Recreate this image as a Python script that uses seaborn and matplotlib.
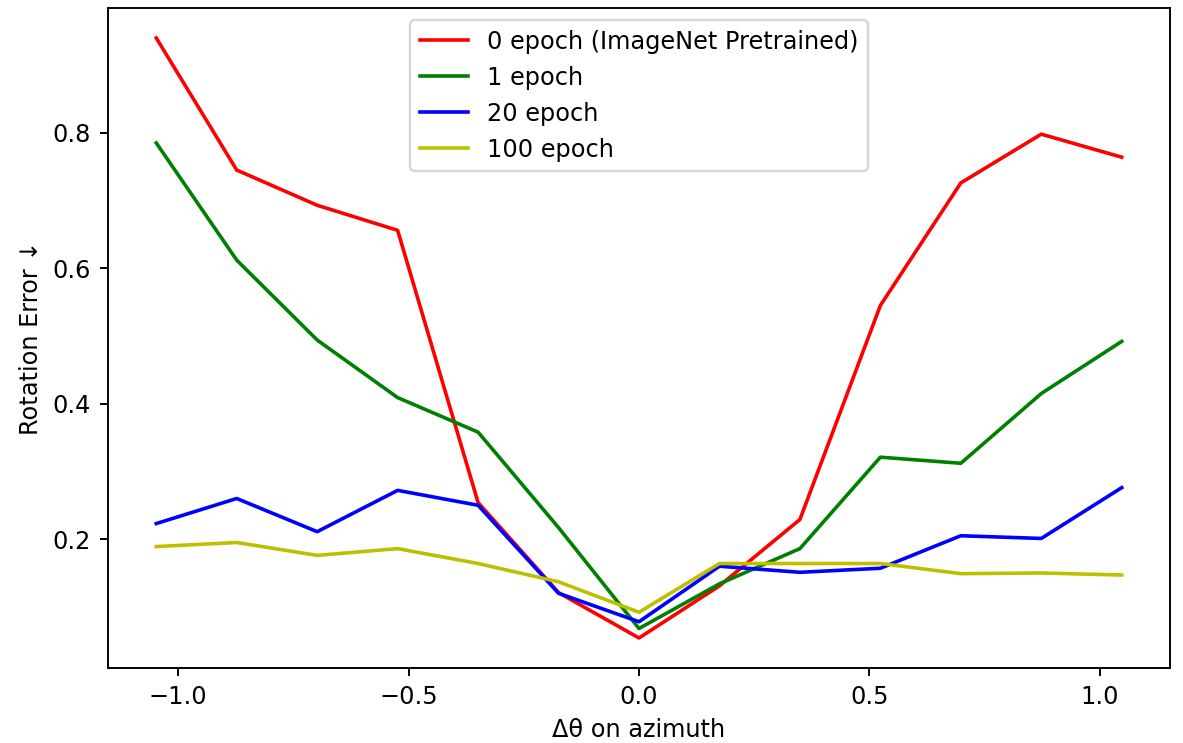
import numpy as np
import pandas as pd
import matplotlib
matplotlib.use("Agg")
import matplotlib.pyplot as plt
import seaborn as sns

# Azimuth offsets (radians): -60..60 degrees in 10 degree steps
azimuth_deg = [-60, -50, -40, -30, -20, -10, 0, 10, 20, 30, 40, 50, 60]
delta_theta = list(np.deg2rad(azimuth_deg))

series_names = ["0 epoch (ImageNet Pretrained)", "1 epoch", "20 epoch", "100 epoch"]
err_epoch0 = [0.940, 0.745, 0.693, 0.656, 0.254, 0.121, 0.054, 0.131, 0.229, 0.545, 0.726, 0.798, 0.764]
err_epoch1 = [0.785, 0.612, 0.494, 0.409, 0.358, 0.217, 0.068, 0.134, 0.186, 0.321, 0.312, 0.415, 0.492]
err_epoch20 = [0.223, 0.260, 0.211, 0.272, 0.250, 0.120, 0.078, 0.160, 0.151, 0.157, 0.205, 0.201, 0.276]
err_epoch100 = [0.189, 0.195, 0.176, 0.186, 0.164, 0.137, 0.092, 0.164, 0.164, 0.164, 0.149, 0.150, 0.147]
colors = ["r", "g", "b", "y"]

all_vals = [err_epoch0, err_epoch1, err_epoch20, err_epoch100]
df = pd.concat(
    [pd.DataFrame({"x": delta_theta, "y": v, "model": n}) for n, v in zip(series_names, all_vals)],
    ignore_index=True,
)

DPI = 173
plt.rcParams["font.family"] = ["DejaVu Sans"]
fig = plt.figure(figsize=(1183 / DPI, 743 / DPI), dpi=DPI)
ax = fig.add_axes([108 / 1183, 1 - 668 / 743, (1170 - 108) / 1183, (668 - 8) / 743])

sns.lineplot(
    data=df, x="x", y="y", hue="model", hue_order=series_names,
    palette=dict(zip(series_names, colors)), estimator=None, linewidth=1.5, ax=ax,
)

ax.set_xlabel("Δθ on azimuth")
ax.set_ylabel("Rotation Error ↓")
ax.set_yticks([0.2, 0.4, 0.6, 0.8])
ax.set_xticks([-1.0, -0.5, 0.0, 0.5, 1.0])
leg = ax.legend(loc="upper center")

fig.savefig("out.png", dpi=DPI)
